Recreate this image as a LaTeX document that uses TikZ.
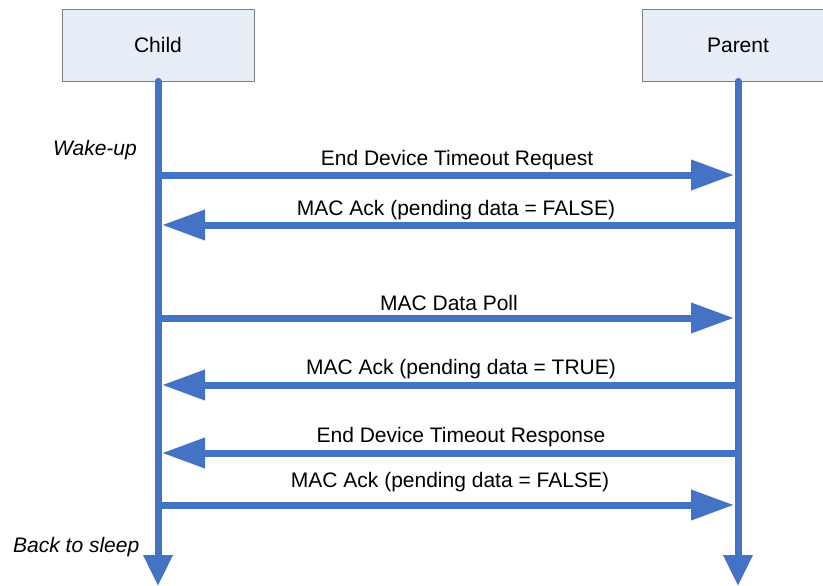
\documentclass[tikz,border=0pt]{standalone}
\usepackage{fontspec}
\setmainfont{Liberation Sans}
\usetikzlibrary{arrows.meta, positioning}
\usepackage{xcolor}
\definecolor{lifeblue}{HTML}{4472C4}
\definecolor{boxfill}{HTML}{E8EEF8}
\definecolor{boxline}{HTML}{7F7F7F}

\begin{document}
\begin{tikzpicture}[
    x=1pt, y=-1pt,
    actor/.style={draw=boxline, fill=boxfill, line width=0.8pt, minimum width=192pt, minimum height=72pt, inner sep=0pt, font=\fontsize{21}{25}\selectfont},
    life/.style={lifeblue, line width=7pt, line cap=round, -{Triangle[length=31pt, width=28pt]}},
    msg/.style={lifeblue, line width=7pt, shorten >=4pt, -{Triangle[length=43pt, width=29pt]}},
    lbl/.style={anchor=base, inner sep=0pt, font=\fontsize{21}{25}\selectfont},
    note/.style={anchor=base west, inner sep=0pt, font=\fontsize{21}{25}\selectfont\itshape},
]
\clip (0,0) rectangle (823,586);
\useasboundingbox (0,0) rectangle (823,586);

\node[actor] (child) at (158,45) {Child};
\node[actor] (parent) at (738,45) {Parent};

% Lifelines
\coordinate (cend) at (158,586);
\coordinate (pend) at (738,586);
\draw[life] (child.south) -- (cend);
\draw[life] (parent.south) -- (pend);

% Message anchors on both lifelines
\foreach \i/\y in {1/175, 2/225, 3/318, 4/385, 5/453, 6/505} {
    \coordinate (c\i) at (158,\y);
    \coordinate (p\i) at (738,\y);
}

\foreach \a/\b in {c1/p1, p2/c2, c3/p3, p4/c4, p5/c5, c6/p6} {
    \draw[msg] (\a) -- (\b);
}

% Message labels
\node[lbl] (m1) at (457,165) {End Device Timeout Request};
\node[lbl] (m2) at (456,215) {MAC Ack (pending data = FALSE)};
\node[lbl] (m3) at (449,310) {MAC Data Poll};
\node[lbl] (m4) at (461,374) {MAC Ack (pending data = TRUE)};
\node[lbl] (m5) at (461,442) {End Device Timeout Response};
\node[lbl] (m6) at (450,487) {MAC Ack (pending data = FALSE)};

% State notes
\node[note] (wake) at (53,156) {Wake-up};
\node[note] (sleep) at (13,552) {Back to sleep};

\end{tikzpicture}
\end{document}
